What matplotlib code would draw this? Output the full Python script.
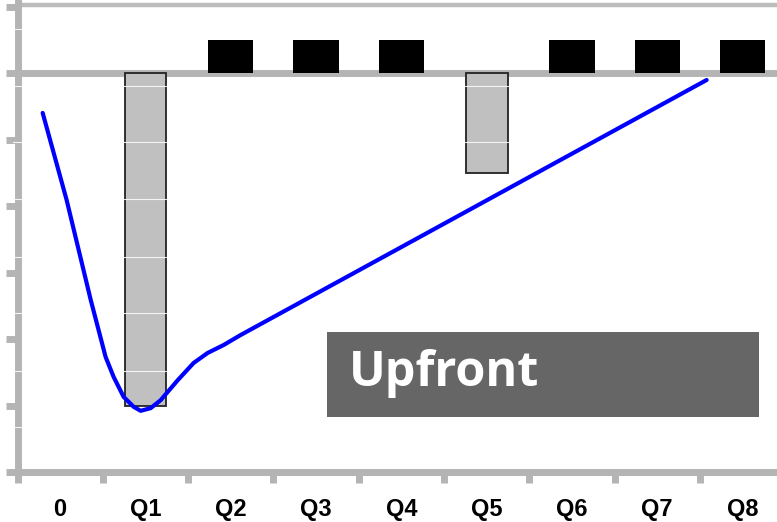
import matplotlib
matplotlib.use("Agg")
import matplotlib.pyplot as plt
from matplotlib.patches import Rectangle
from matplotlib.ticker import FixedLocator

plt.rcParams['font.family'] = ['Liberation Sans', 'DejaVu Sans']

# ---- data ----
categories = ['0', 'Q1', 'Q2', 'Q3', 'Q4', 'Q5', 'Q6', 'Q7', 'Q8']
outflow_cats = ['Q1', 'Q5']
outflow_vals = [-5.0, -1.5]
inflow_cats = ['Q2', 'Q3', 'Q4', 'Q6', 'Q7', 'Q8']
inflow_vals = [0.5, 0.5, 0.5, 0.5, 0.5, 0.5]
# cumulative curve (x in category units, y in value units)
curve_x = [-0.205, 0.076, 0.358, 0.533, 0.627, 0.744, 0.862, 0.944, 1.061,
           1.178, 1.378, 1.565, 1.729, 1.917, 2.116, 7.579]
curve_y = [-0.60, -1.91, -3.41, -4.27, -4.57, -4.87, -5.02, -5.08, -5.04,
           -4.92, -4.62, -4.36, -4.21, -4.09, -3.94, -0.105]
y_ticks = [-6, -5, -4, -3, -2, -1, 0, 1]
label_text = 'Upfront'

# ---- layout (pixel geometry) ----
W, H = 777, 522
fig = plt.figure(figsize=(W / 100, H / 100), dpi=100)
xu, yu = 85.3, 66.5          # px per unit
left_px, zero_px = 17.5, 73.0
ymin, ymax = -6, 1.15
bottom_px = zero_px - ymin * yu
top_px = zero_px - ymax * yu
ax = fig.add_axes([left_px / W, (H - bottom_px) / H,
                   9 * xu / W, (bottom_px - top_px) / H])
ax.set_xlim(-0.5, 8.5)
ax.set_ylim(ymin, ymax)

idx = {c: i for i, c in enumerate(categories)}
spine_col = '#b4b4b4'

ax.axhline(0, color=spine_col, lw=5.0, zorder=1.5)
ax.axhline(1.02, color='#bcbcbc', lw=3.2, zorder=1.5)

ax.bar([idx[c] for c in outflow_cats], outflow_vals, width=0.49,
       color='#c0c0c0', edgecolor='#222222', linewidth=1.3, zorder=2)
ax.bar([idx[c] for c in inflow_cats], inflow_vals, width=0.53,
       color='black', edgecolor='none', zorder=2, bottom=0.0)

# faint white raster lines
for gy in [0.66, -0.195, -1.04, -1.90, -2.77, -3.61, -4.48, -5.32]:
    ax.plot([-0.006, 1.0], [gy, gy], transform=ax.get_yaxis_transform(),
            color='white', lw=0.8, alpha=0.85, zorder=2.7, clip_on=False)

ax.plot(curve_x, curve_y, color='#0000ff', lw=3.0, zorder=3,
        solid_capstyle='round', solid_joinstyle='round')

for s in ['top', 'right']:
    ax.spines[s].set_visible(False)
for s in ['left', 'bottom']:
    ax.spines[s].set_color(spine_col)
    ax.spines[s].set_linewidth(5.0)
    ax.spines[s].set_zorder(2.5)

ax.set_yticks(y_ticks)
ax.tick_params(axis='y', direction='out', length=9, width=5, color=spine_col,
               labelleft=False)
ax.set_xticks(range(len(categories)))
ax.set_xticklabels(categories, fontsize=17, fontweight='bold', color='black')
ax.tick_params(axis='x', which='major', length=0, pad=19)
ax.xaxis.set_minor_locator(FixedLocator([i - 0.5 for i in range(len(categories) + 1)]))
ax.tick_params(axis='x', which='minor', direction='out', length=8, width=5,
               color=spine_col)

# label box
bx0, by0, bx1, by1 = 327, 332, 759, 417
fig.add_artist(Rectangle((bx0 / W, (H - by1) / H), (bx1 - bx0) / W, (by1 - by0) / H,
                         transform=fig.transFigure, facecolor='#666666',
                         edgecolor='none', zorder=4))
fig.text(349 / W, (H - 386) / H, label_text, color='white', fontsize=35,
         fontweight='bold', family=['Open Sans', 'DejaVu Sans'],
         ha='left', va='baseline', zorder=5)

fig.savefig('out.png', dpi=100)
